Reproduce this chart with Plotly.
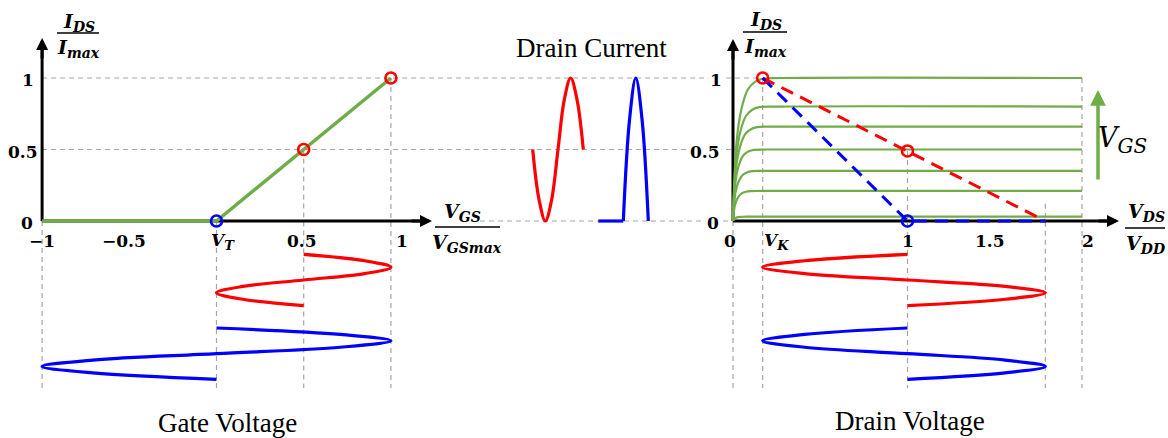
import plotly.graph_objects as go

W, H = 1168, 438

# ------------------------------------------------------------------ data
# transfer characteristic (left panel)
vgs_transfer = [-1.0, 0.0, 1.0]
ids_transfer = [0.0, 0.0, 1.0]
vgs_ticks = [-1.0, -0.5, 0.0, 0.5, 1.0]
ids_ticks = [0.0, 0.5, 1.0]
ids_tick_labels = ["0", "0.5", "1"]
q_vgs_red = [0.5, 1.0]
q_ids_red_left = [0.5, 1.0]
q_vgs_blue = [0.0]
q_ids_blue_left = [0.0]

# output characteristic (right panel)
vds_ticks = [0.0, 0.17, 1.0, 1.5, 2.0]
ids_levels = [1.0, 0.8, 0.66, 0.5, 0.35, 0.21, 0.03]
knee_vds = [0.17, 0.15, 0.14, 0.12, 0.11, 0.10, 0.06]
knee_frac_vds = [0.0, 0.12, 0.28, 0.5, 0.75, 1.0, 1.6]
knee_frac_ids = [0.0, 0.55, 0.78, 0.92, 0.975, 0.995, 1.0]
vds_end = 2.0
load_vds = [0.17, 1.0, 1.79]
load_ids_red = [1.0, 0.49, 0.0]
load_ids_blue = [1.0, 0.0, 0.0]
q_vds_red = [0.17, 1.0]
q_ids_red_right = [1.0, 0.49]
q_vds_blue = [1.0]
q_ids_blue_right = [0.0]

# waveforms (one period, sampled at eighths)
wave_t = [0.0, 0.125, 0.25, 0.375, 0.5, 0.625, 0.75, 0.875, 1.0]
gate_red = [0.5, 0.85, 1.0, 0.85, 0.5, 0.15, 0.0, 0.15, 0.5]
gate_blue = [0.0, 0.71, 1.0, 0.71, 0.0, -0.71, -1.0, -0.71, 0.0]
drain_i_red = [0.5, 0.15, 0.0, 0.15, 0.5, 0.85, 1.0, 0.85, 0.5]
drain_i_blue_flat_t = [0.0, 0.5]
drain_i_blue_flat = [0.0, 0.0]
drain_i_blue_arch_t = [0.5, 0.625, 0.75, 0.875, 1.0]
drain_i_blue_arch = [0.0, 0.71, 1.0, 0.71, 0.0]
drain_v_red = [1.0, 0.41, 0.17, 0.41, 1.0, 1.56, 1.79, 1.56, 1.0]
drain_v_blue = [1.0, 0.41, 0.17, 0.41, 1.0, 1.56, 1.79, 1.56, 1.0]

# ------------------------------------------------------------------ styling / layout calibration
GREEN = "#70AD47"
RED = "#FF0000"
BLUE = "#0000FF"
GRAY = "#A6A6A6"
FONT = "Liberation Serif"
MATH = "DejaVu Serif"


def sym(main, sub, sub_px):
    """italic symbol with enlarged italic subscript"""
    return ("<i>" + main + "</i><sub><span style=\"font-size:" + str(sub_px) + "px\"><i>"
            + sub + "</i></span></sub>")


vgs_tick_labels = ["−1", "−0.5", sym("V", "T", 13), "0.5", "1"]
vds_tick_labels = ["0", sym("V", "K", 13), "1", "1.5", "2"]

# pixel calibration of each axis: px = a + b*value  (y: py = a - b*value)
LX_A, LX_B = 216.5, 174.4     # left  VGS axis
RX_A, RX_B = 733.0, 174.5     # right VDS axis
MR_A, MR_B = 532.7, 50.6      # middle red time axis
MB_A, MB_B = 598.3, 50.0      # middle blue time axis
Y_A, Y_B = 221.0, 143.0       # current axis
TR_A, TR_B = 254.3, 51.4      # bottom red time axis (downwards)
TB_A, TB_B = 328.0, 51.3      # bottom blue time axis (downwards)


def xr(a, b):
    return [(0 - a) / b, (W - a) / b]


def yr_up(a, b):
    return [(a - H) / b, a / b]


def yr_down(a, b):
    return [(H - a) / b, -a / b]


def lx_px(v):
    return LX_A + LX_B * v


def rx_from_px(p):
    return (p - RX_A) / RX_B


def lx_from_px(p):
    return (p - LX_A) / LX_B


def cur_from_px(p):
    return (Y_A - p) / Y_B


def paper(px, py):
    return px / W, 1 - py / H


GUIDE_BOTTOM = cur_from_px(388)

fig = go.Figure()


def line_trace(x, y, xa, ya, color, width, dash=None, shape="linear"):
    fig.add_trace(go.Scatter(x=x, y=y, xaxis=xa, yaxis=ya, mode="lines",
                             line=dict(color=color, width=width, dash=dash, shape=shape),
                             showlegend=False, hoverinfo="skip"))


def marker_trace(x, y, xa, ya, color):
    fig.add_trace(go.Scatter(x=x, y=y, xaxis=xa, yaxis=ya, mode="markers",
                             marker=dict(symbol="circle-open", size=11, color=color,
                                         line=dict(width=2.6, color=color)),
                             showlegend=False, hoverinfo="skip"))


# left: transfer curve
line_trace(vgs_transfer, ids_transfer, "x", "y", GREEN, 3.5)

# right: output curves
for lvl, k in zip(ids_levels, knee_vds):
    xs = [k * f for f in knee_frac_vds] + [vds_end]
    ys = [lvl * f for f in knee_frac_ids] + [lvl]
    line_trace(xs, ys, "x2", "y", GREEN, 2.2, shape="spline")

# load lines
line_trace(load_vds, load_ids_red, "x2", "y", RED, 3, dash="13px,8px")
line_trace(load_vds, load_ids_blue, "x2", "y", BLUE, 3, dash="13px,8px")

# middle: drain current waveforms
line_trace(wave_t, drain_i_red, "x3", "y", RED, 3.2, shape="spline")
line_trace(drain_i_blue_flat_t, drain_i_blue_flat, "x4", "y", BLUE, 3.2)
line_trace(drain_i_blue_arch_t, drain_i_blue_arch, "x4", "y", BLUE, 3.2, shape="spline")

# bottom left: gate voltage
line_trace(gate_red, wave_t, "x", "y2", RED, 3.2, shape="spline")
line_trace(gate_blue, wave_t, "x", "y3", BLUE, 3.2, shape="spline")

# bottom right: drain voltage
line_trace(drain_v_red, wave_t, "x2", "y2", RED, 3.2, shape="spline")
line_trace(drain_v_blue, wave_t, "x2", "y3", BLUE, 3.2, shape="spline")

# operating points
marker_trace(q_vgs_red, q_ids_red_left, "x", "y", RED)
marker_trace(q_vgs_blue, q_ids_blue_left, "x", "y", BLUE)
marker_trace(q_vds_red, q_ids_red_right, "x2", "y", RED)
marker_trace(q_vds_blue, q_ids_blue_right, "x2", "y", BLUE)

shapes = []
guide = dict(color=GRAY, width=1.2, dash="5px,4px")


def gline(xref, yref, x0, y0, x1, y1, line=guide, layer="below"):
    shapes.append(dict(type="line", xref=xref, yref=yref, x0=x0, y0=y0, x1=x1, y1=y1,
                       line=line, layer=layer))


# horizontal guides (drawn in right-axis units so they cross the gap)
gline("x2", "y", rx_from_px(lx_px(-1.0)), 1.0, load_vds[0], 1.0)
gline("x2", "y", rx_from_px(lx_px(-1.0)), 0.5, 0.0, 0.5)
gline("x2", "y", rx_from_px(480), 0.0, 0.0, 0.0)
# vertical guides, left
for xv, top in [(-1.0, 0.0), (0.0, 0.0), (0.5, 0.5), (1.0, 1.0)]:
    gline("x", "y", xv, top, xv, GUIDE_BOTTOM)
# vertical guides, right
for xv, top in [(0.0, 0.0), (0.17, 1.0), (1.0, 0.49), (1.79, 0.12), (2.0, 1.0)]:
    gline("x2", "y", xv, top, xv, GUIDE_BOTTOM)

# axis lines
axis_line = dict(color="black", width=3)
L_TIP_X = lx_from_px(432)
L_TIP_Y = cur_from_px(38)
R_TIP_X = rx_from_px(1119)
R_TIP_Y = cur_from_px(39)
gline("x", "y", -1.0, 0.0, lx_from_px(424), 0.0, line=axis_line)
gline("x", "y", -1.0, 0.0, -1.0, cur_from_px(46), line=axis_line)
gline("x2", "y", 0.0, 0.0, rx_from_px(1111), 0.0, line=axis_line)
gline("x2", "y", 0.0, 0.0, 0.0, cur_from_px(47), line=axis_line)

# fraction bars (paper)
for x0, x1, yb in [(57, 99, 33), (743, 787, 32), (435, 500, 227), (1125, 1165, 228)]:
    px0, py0 = paper(x0, yb)
    px1, _ = paper(x1, yb)
    shapes.append(dict(type="line", xref="paper", yref="paper", x0=px0, y0=py0, x1=px1, y1=py0,
                       line=dict(color="black", width=1.6)))

annotations = []


def arrowhead(xref, yref, x, y, ax, ay, color="black", width=3, size=0.8):
    annotations.append(dict(xref=xref, yref=yref, x=x, y=y, ax=ax, ay=ay, text="",
                            showarrow=True, arrowhead=2, arrowsize=size, arrowwidth=width,
                            arrowcolor=color, standoff=0))


arrowhead("x", "y", L_TIP_X, 0.0, -22, 0)
arrowhead("x", "y", -1.0, L_TIP_Y, 0, 22)
arrowhead("x2", "y", R_TIP_X, 0.0, -22, 0)
arrowhead("x2", "y", 0.0, R_TIP_Y, 0, 22)
# green V_GS arrow
annotations.append(dict(xref="x2", yref="y", x=rx_from_px(1098), y=cur_from_px(90),
                        axref="x2", ayref="y", ax=rx_from_px(1098), ay=cur_from_px(181),
                        text="", showarrow=True, arrowhead=2, arrowsize=0.9, arrowwidth=3.5,
                        arrowcolor=GREEN, standoff=0))

tick_font = dict(family=MATH, size=17, color="black")


def tick(xref, yref, x, y, text, xs=0, ys=0, bg=None):
    d = dict(xref=xref, yref=yref, x=x, y=y, text="<b>" + text + "</b>", showarrow=False,
             font=tick_font, xshift=xs, yshift=ys, xanchor="center", yanchor="middle")
    if bg:
        d["bgcolor"] = bg
    annotations.append(d)


left_x_shift = [0, -5, 6, -2, 11]
for v, s, sh in zip(vgs_ticks, vgs_tick_labels, left_x_shift):
    tick("x", "y", v, 0.0, s, xs=sh, ys=-20)
left_y_shift = [-15, -19, -14]
for v, s, sh in zip(ids_ticks, ids_tick_labels, left_y_shift):
    tick("x", "y", -1.0, v, s, xs=sh, ys=-2)
right_x_shift = [-3, 14, 0, -5, 6]
for v, s, sh in zip(vds_ticks, vds_tick_labels, right_x_shift):
    tick("x2", "y", v, 0.0, s, xs=sh, ys=-20)
right_y_shift = [-20, -28, -17]
for v, s, sh in zip(ids_ticks, ids_tick_labels, right_y_shift):
    tick("x2", "y", 0.0, v, s, xs=sh, ys=-2, bg="white")


def ptext(px, py, text, size, family=FONT):
    x, y = paper(px, py)
    annotations.append(dict(xref="paper", yref="paper", x=x, y=y, text=text, showarrow=False,
                            font=dict(family=family, size=size, color="black"),
                            xanchor="center", yanchor="middle"))


frac_num_I = "<b>" + sym("I", "DS", 14) + "</b>"
frac_den_I = "<b>" + sym("I", "max", 14) + "</b>"
ptext(79, 22, frac_num_I, 19, MATH)
ptext(78, 48, frac_den_I, 19, MATH)
ptext(766, 21, frac_num_I, 19, MATH)
ptext(765, 47, frac_den_I, 19, MATH)
ptext(462, 212, "<b>" + sym("V", "GS", 14) + "</b>", 19, MATH)
ptext(467, 243, "<b>" + sym("V", "GSmax", 14) + "</b>", 19, MATH)
ptext(1146, 213, "<b>" + sym("V", "DS", 14) + "</b>", 19, MATH)
ptext(1146, 244, "<b>" + sym("V", "DD", 14) + "</b>", 19, MATH)
ptext(1122, 140, sym("V", "GS", 20), 27, MATH)
ptext(591, 48, "Drain Current", 27)
ptext(227, 423, "Gate Voltage", 27)
ptext(910, 421, "Drain Voltage", 27)

ax_common = dict(visible=False, domain=[0, 1], fixedrange=True)
fig.update_layout(
    width=W, height=H, autosize=False,
    margin=dict(l=0, r=0, t=0, b=0, pad=0),
    paper_bgcolor="white", plot_bgcolor="rgba(0,0,0,0)",
    showlegend=False,
    xaxis=dict(range=xr(LX_A, LX_B), **ax_common),
    xaxis2=dict(range=xr(RX_A, RX_B), overlaying="x", **ax_common),
    xaxis3=dict(range=xr(MR_A, MR_B), overlaying="x", **ax_common),
    xaxis4=dict(range=xr(MB_A, MB_B), overlaying="x", **ax_common),
    yaxis=dict(range=yr_up(Y_A, Y_B), **ax_common),
    yaxis2=dict(range=yr_down(TR_A, TR_B), overlaying="y", **ax_common),
    yaxis3=dict(range=yr_down(TB_A, TB_B), overlaying="y", **ax_common),
    shapes=shapes,
    annotations=annotations,
)

fig.write_html("out.html")
